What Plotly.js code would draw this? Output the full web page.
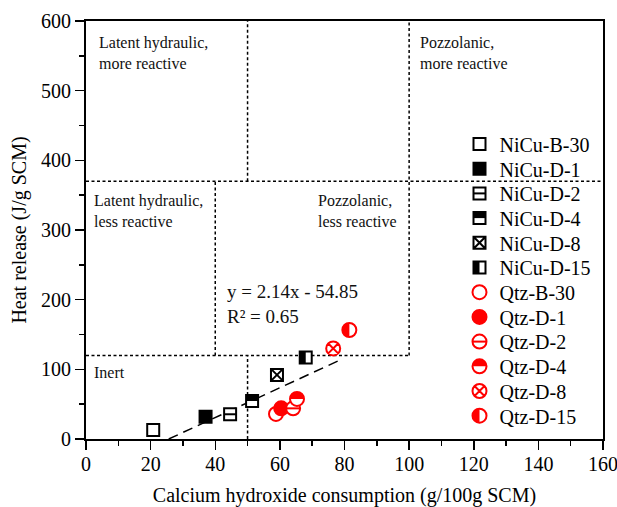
<!DOCTYPE html>
<html><head><meta charset="utf-8">
<script src="https://cdn.plot.ly/plotly-3.0.1.min.js"></script>
<style>html,body{margin:0;padding:0;background:#fff}</style>
</head><body><div id="chart" style="width:617px;height:507px"></div>
<script>
// ---- data ----
const sampleNames = ['NiCu-B-30','NiCu-D-1','NiCu-D-2','NiCu-D-4','NiCu-D-8','NiCu-D-15',
                     'Qtz-B-30','Qtz-D-1','Qtz-D-2','Qtz-D-4','Qtz-D-8','Qtz-D-15'];
const chConsumption = [20.8, 37.0, 44.6, 51.4, 59.1, 68.0, 58.8, 60.4, 64.1, 65.3, 76.5, 81.5];
const heatRelease   = [13, 32, 35.5, 54.5, 92, 117, 36, 44, 44, 57.5, 130, 156.5];
const trendX = [25.6, 78];
const trendY = [0, 112];
const hLineY  = [370, 120];
const hLineX0 = [0, 0];
const hLineX1 = [160, 100];
const vLineX  = [50, 50, 100, 40];
const vLineY0 = [370, 0, 120, 120];
const vLineY1 = [600, 120, 600, 370];
const regionText = ['Latent hydraulic,<br>more reactive','Pozzolanic,<br>more reactive',
                    'Latent hydraulic,<br>less reactive','Pozzolanic,<br>less reactive','Inert'];
const regionX = [3.4, 102.6, 1.8, 71.2, 1.8];
const regionY = [554, 554, 327, 327, 95];
const eqText = 'y = 2.14x - 54.85<br>R² = 0.65';
const eqX = 43, eqY = 194;

// ---- styles ----
const FONT = 'Liberation Serif, Times New Roman, serif';
const RED = '#ff0000';
const styleOf = {
  'NiCu-B-30': {sym:'square', fill:'#fff', line:'#000'},
  'NiCu-D-1':  {sym:'square', fill:'#000', line:'#000'},
  'NiCu-D-2':  {sym:'square', fill:'#fff', line:'#000', ov:'hline'},
  'NiCu-D-4':  {sym:'square', fill:'#fff', line:'#000', ov:'topS'},
  'NiCu-D-8':  {sym:'square-x', fill:'#fff', line:'#000'},
  'NiCu-D-15': {sym:'square', fill:'#fff', line:'#000', ov:'leftS'},
  'Qtz-B-30':  {sym:'circle', fill:'#fff', line:RED},
  'Qtz-D-1':   {sym:'circle', fill:RED, line:RED},
  'Qtz-D-2':   {sym:'circle', fill:'#fff', line:RED, ov:'hline'},
  'Qtz-D-4':   {sym:'circle', fill:'#fff', line:RED, ov:'topC'},
  'Qtz-D-8':   {sym:'circle-x', fill:'#fff', line:RED},
  'Qtz-D-15':  {sym:'circle', fill:'#fff', line:RED, ov:'leftC'}
};

const traces = [{
  x: trendX, y: trendY, mode:'lines', showlegend:false, hoverinfo:'skip',
  line:{color:'#000', width:1.5, dash:'10px,6px'}
}];
sampleNames.forEach((n,i)=>{
  const s = styleOf[n];
  const isSq = n.startsWith('NiCu');
  traces.push({
    x:[chConsumption[i]], y:[heatRelease[i]], name:n, mode:'markers', type:'scatter',
    marker:{symbol:s.sym, size: isSq?12:14, color:s.fill, line:{color:s.line, width:2}}
  });
});

const shapes = [];
hLineY.forEach((y,i)=>shapes.push({type:'line', xref:'x', yref:'y', x0:hLineX0[i], x1:hLineX1[i], y0:y, y1:y,
  layer:'below', line:{color:'#000', width:1.5, dash:'3px,2.5px'}}));
vLineX.forEach((x,i)=>shapes.push({type:'line', xref:'x', yref:'y', x0:x, x1:x, y0:vLineY0[i], y1:vLineY1[i],
  layer:'below', line:{color:'#000', width:1.5, dash:'3px,2.5px'}}));

const annotations = regionText.map((t,i)=>({
  text:t, x:regionX[i], y:regionY[i], xref:'x', yref:'y', xanchor:'left', yanchor:'middle',
  align:'left', showarrow:false, font:{family:FONT, size:16, color:'#111'}
}));
annotations.push({text:eqText, x:eqX, y:eqY, xref:'x', yref:'y', xanchor:'left', yanchor:'middle',
  align:'left', showarrow:false, font:{family:FONT, size:19, color:'#111'}});

const axisCommon = {
  showline:true, linecolor:'#000', linewidth:2, mirror:true, showgrid:false, zeroline:false,
  ticks:'outside', ticklen:9, tickwidth:1.5, tickcolor:'#000',
  tickfont:{family:FONT, size:20, color:'#000'}, ticklabeloverflow:'allow'
};
const layout = {
  width:617, height:507, margin:{l:86, r:14, t:21, b:68},
  paper_bgcolor:'#fff', plot_bgcolor:'#fff',
  font:{family:FONT, color:'#000'},
  xaxis: Object.assign({}, axisCommon, {range:[0,160], tick0:0, dtick:20, ticklabelstandoff:-3,
    minor:{dtick:10, ticks:'outside', ticklen:5, tickwidth:1.5, tickcolor:'#000'},
    title:{text:'Calcium hydroxide consumption (g/100g SCM)', font:{family:FONT, size:20, color:'#000'}}}),
  yaxis: Object.assign({}, axisCommon, {range:[0,600], tick0:0, dtick:100,
    minor:{dtick:50, ticks:'outside', ticklen:5, tickwidth:1.5, tickcolor:'#000'},
    title:{text:'Heat release (J/g SCM)', standoff:9, font:{family:FONT, size:20, color:'#000'}}}),
  showlegend:true,
  legend:{x:0.72, y:0.74, xanchor:'left', yanchor:'top', bgcolor:'rgba(0,0,0,0)',
    font:{family:FONT, size:20, color:'#000'}, itemsizing:'trace'},
  shapes:shapes, annotations:annotations
};

function ovPath(type, r){
  switch(type){
    case 'hline': return 'M'+(-r)+',0H'+r;
    case 'topS': return 'M'+(-r)+','+(-r)+'H'+r+'V0H'+(-r)+'Z';
    case 'leftS': return 'M'+(-r)+','+(-r)+'H0V'+r+'H'+(-r)+'Z';
    case 'topC': return 'M'+(-r)+',0A'+r+','+r+' 0 0 1 '+r+',0Z';
    case 'leftC': return 'M0,'+(-r)+'A'+r+','+r+' 0 0 0 0,'+r+'Z';
  }
}
function addOverlay(node, name){
  const s = styleOf[name]; if(!s || !s.ov) return;
  const bb = node.getBBox(); const r = bb.width/2;
  const p = node.cloneNode(false);
  p.setAttribute('d', ovPath(s.ov, r));
  p.removeAttribute('class');
  if(s.ov==='hline'){ p.style.fill='none'; p.style.stroke=s.line; p.style.strokeWidth='2px'; }
  else { p.style.fill=s.line; p.style.stroke='none'; }
  p.style.opacity = 1;
  node.parentNode.insertBefore(p, node.nextSibling);
}

const gd = document.getElementById('chart');
Plotly.newPlot(gd, traces, layout, {displayModeBar:false, staticPlot:true}).then(()=>{
  gd.querySelectorAll('.scatterlayer .trace').forEach(g=>{
    const cd = g.__data__; if(!cd || !cd[0]) return;
    const name = cd[0].trace.name;
    g.querySelectorAll('path.point').forEach(p=>addOverlay(p, name));
  });
  gd.querySelectorAll('.legend .scrollbox, .legend').forEach(el=>el.removeAttribute('clip-path'));
  const items = Array.from(gd.querySelectorAll('.legend .traces'));
  const svgRect = gd.getBoundingClientRect();
  items.forEach((g,i)=>{
    const cd = g.__data__; const name = cd && cd[0] ? cd[0].trace.name : null;
    const pts = g.querySelectorAll('path.scatterpts');
    pts.forEach(p=>addOverlay(p, name));
    if(!pts.length) return;
    const rc = pts[0].getBoundingClientRect();
    const cx = (rc.left+rc.right)/2 - svgRect.left, cy = (rc.top+rc.bottom)/2 - svgRect.top;
    const wantX = 479.5, wantY = 144 + i*24.7;
    const tr = g.getAttribute('transform') || '';
    const m = tr.match(/translate\(\s*([-\d.e]+)[ ,]+([-\d.e]+)\s*\)/);
    let tx = 0, ty = 0; if(m){ tx = parseFloat(m[1]); ty = parseFloat(m[2]); }
    g.setAttribute('transform', 'translate('+(tx + wantX - cx)+','+(ty + wantY - cy)+')');
  });
});
</script></body></html>
